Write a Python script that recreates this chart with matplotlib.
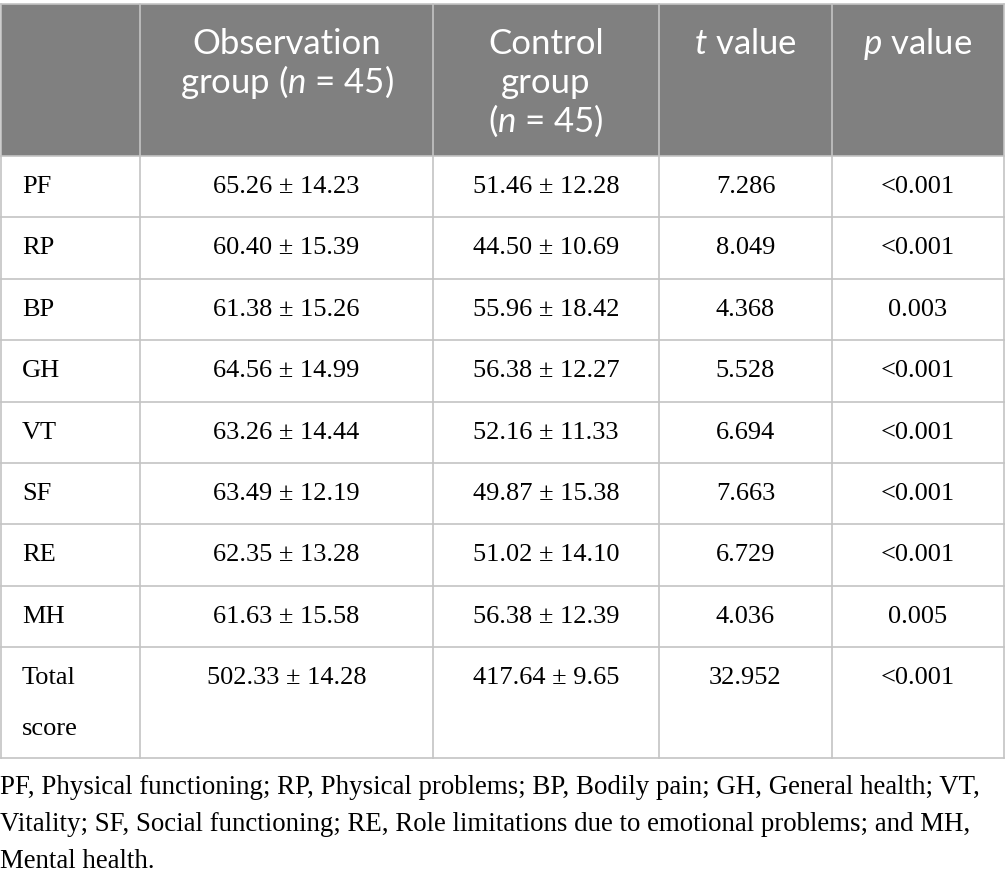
import matplotlib.pyplot as plt
from matplotlib.patches import Rectangle

plt.rcParams['mathtext.fontset'] = 'custom'
plt.rcParams['mathtext.rm'] = 'Lato'
plt.rcParams['mathtext.it'] = 'Lato:italic'

# table content
headers = ["", "Observation\ngroup ($n$ = 45)", "Control\ngroup\n($n$ = 45)", "$t$ value", "$p$ value"]
row_labels = ["PF", "RP", "BP", "GH", "VT", "SF", "RE", "MH", "Total\nscore"]
obs_group = ["65.26 ± 14.23", "60.40 ± 15.39", "61.38 ± 15.26", "64.56 ± 14.99", "63.26 ± 14.44",
             "63.49 ± 12.19", "62.35 ± 13.28", "61.63 ± 15.58", "502.33 ± 14.28"]
ctrl_group = ["51.46 ± 12.28", "44.50 ± 10.69", "55.96 ± 18.42", "56.38 ± 12.27", "52.16 ± 11.33",
              "49.87 ± 15.38", "51.02 ± 14.10", "56.38 ± 12.39", "417.64 ± 9.65"]
t_values = ["7.286", "8.049", "4.368", "5.528", "6.694", "7.663", "6.729", "4.036", "32.952"]
p_values = ["<0.001", "<0.001", "0.003", "<0.001", "<0.001", "<0.001", "<0.001", "0.005", "<0.001"]
footnote = ("PF, Physical functioning; RP, Physical problems; BP, Bodily pain; GH, General health; VT,\n"
            "Vitality; SF, Social functioning; RE, Role limitations due to emotional problems; and MH,\n"
            "Mental health.")

W, H = 1005, 886
fig = plt.figure(figsize=(W / 100, H / 100), dpi=100)
ax = fig.add_axes([0, 0, 1, 1])
ax.set_xlim(0, W)
ax.set_ylim(H, 0)
ax.axis('off')

col_x = [1, 140, 433, 659, 832, 1004]
head_top, head_bot = 4, 156
row_h = 61.4
row_tops = [head_bot + i * row_h for i in range(len(row_labels))]
table_bot = 758
line_col = '#c4c4c4'
serif = 'Liberation Serif'
body_fs = 19

# header, one baseline per line so the italic parts don't shift spacing
ax.add_patch(Rectangle((col_x[0], head_top), col_x[-1] - col_x[0], head_bot - head_top,
                       facecolor='#808080', edgecolor='none'))
for i, h in enumerate(headers):
    if not h:
        continue
    cx = (col_x[i] + col_x[i + 1]) / 2
    for k, line in enumerate(h.split('\n')):
        ax.text(cx, 54 + 39 * k, line, ha='center', va='baseline', color='white',
                fontsize=25, family='Lato')

# body
columns = [obs_group, ctrl_group, t_values, p_values]
for r, lab in enumerate(row_labels):
    y = row_tops[r] + 31
    for k, line in enumerate(lab.split('\n')):
        ax.text(22, y + 51 * k, line, ha='left', va='center', fontsize=body_fs, family=serif)
    for c, vals in enumerate(columns):
        cx = (col_x[c + 1] + col_x[c + 2]) / 2
        ax.text(cx, y, vals[r], ha='center', va='center', fontsize=body_fs, family=serif)

# grid lines
ax.plot([col_x[0], col_x[-1]], [head_top, head_top], color=line_col, lw=1.2)
for y in [head_bot] + row_tops[1:] + [table_bot]:
    ax.plot([col_x[0], col_x[-1]], [y, y], color=line_col, lw=1.2)
for x in col_x:
    ax.plot([x, x], [head_top, table_bot], color=line_col, lw=1.2)

for k, line in enumerate(footnote.split('\n')):
    ax.text(0, 787 + 37.5 * k, line, ha='left', va='center', fontsize=19.4, family=serif)

fig.savefig('out.png', dpi=100, facecolor='white')
